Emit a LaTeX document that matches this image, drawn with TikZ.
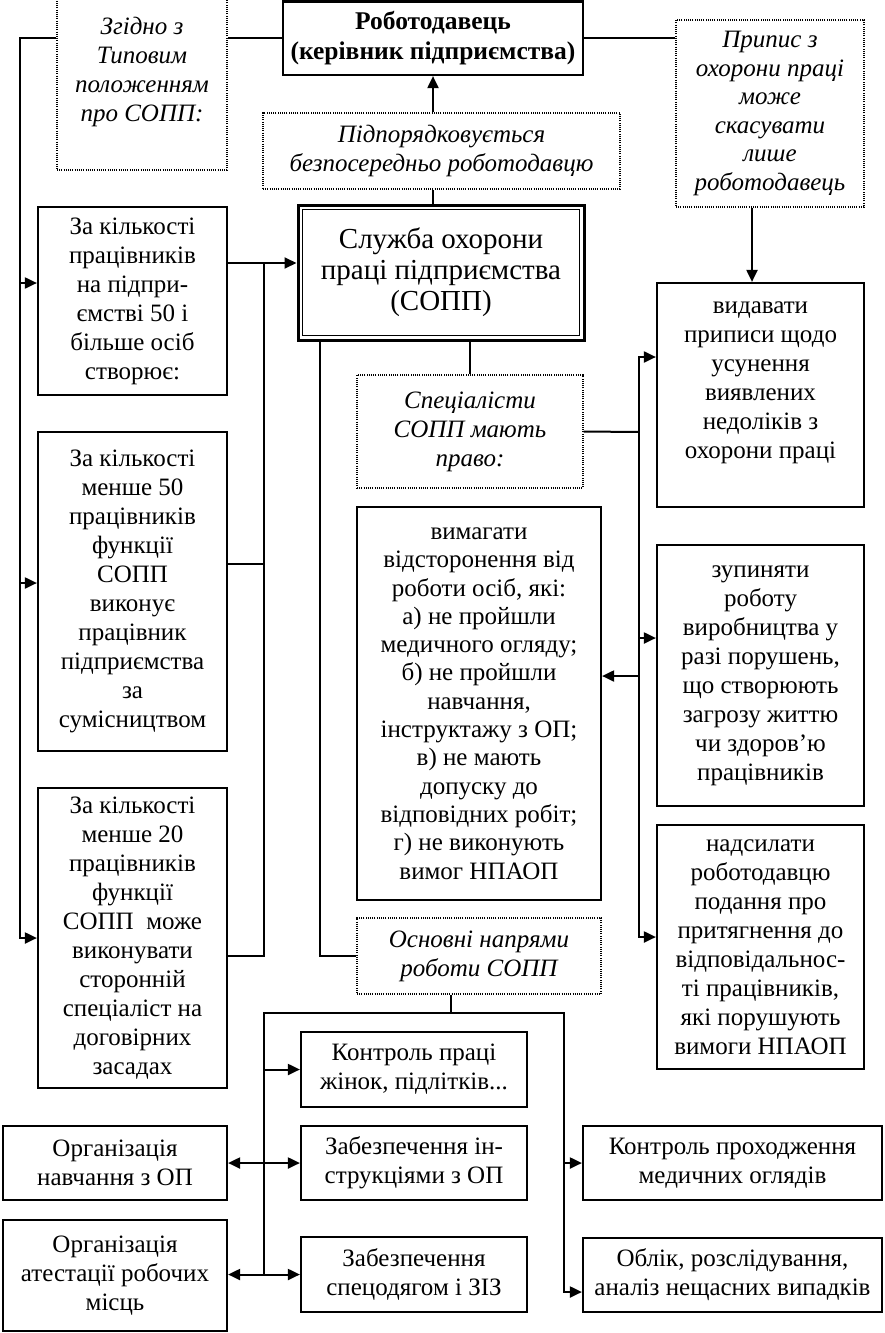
\documentclass[tikz,border=0pt]{standalone}
\usepackage{fontspec}
\setmainfont{Liberation Serif}
\usetikzlibrary{arrows.meta}

\begin{document}
\begin{tikzpicture}[x=1pt, y=-1pt]

    \tikzstyle{block} = [rectangle, draw, line width=2.2pt, align=center, inner sep=0pt, font=\fontsize{25}{29}\selectfont]
    \tikzstyle{note} = [rectangle, draw, dash pattern=on 1pt off 1.2pt, line width=1.1pt, align=center, inner sep=0pt, font=\fontsize{25}{29}\selectfont\itshape]
    \tikzstyle{mainblock} = [block, line width=3pt, font=\fontsize{29}{31}\selectfont,
        path picture={\draw [line width=1.2pt] ([shift={(4.5pt,4.5pt)}]path picture bounding box.south west) rectangle ([shift={(-4.5pt,-4.5pt)}]path picture bounding box.north east);}]
    \tikzstyle{link} = [line width=2pt]
    \tikzstyle{arrow} = [line width=2pt,->,>={Triangle[length=12pt,width=11pt]}]

    \useasboundingbox (0,0) rectangle (884,1333);

    % top row
    \node (rob) [block, minimum width=300pt, minimum height=73.5pt, font=\fontsize{25.5}{30}\selectfont\bfseries] at (433,38.25) {Роботодавець\\(керівник підприємства)};
    \node (zgidno) [note, minimum width=170pt, minimum height=172pt] at (142,84) {Згідно з\\Типовим\\положенням\\про СОПП:\\~};
    \node (pidp) [note, minimum width=357pt, minimum height=76pt] at (441.5,151) {Підпорядковується\\безпосередньо роботодавцю};
    \node (pripys) [note, minimum width=188pt, minimum height=187pt, font=\fontsize{25}{28.5}\selectfont\itshape] at (770,113.5) {Припис з\\охорони праці\\може\\скасувати\\лише\\роботодавець};

    \node (sopp) [mainblock, minimum width=286pt, minimum height=135pt] at (441,272.5) {Служба охорони\\праці підприємства\\(СОПП)};

    % left column
    \node (boxA) [block, minimum width=189pt, minimum height=188pt] at (132.5,301) {За кількості\\працівників\\на підпри-\\ємстві 50 і\\більше осіб\\створює:};
    \node (boxB) [block, minimum width=189pt, minimum height=319pt] at (132.5,591.5) {За кількості\\менше 50\\працівників\\функції\\СОПП\\виконує\\працівник\\підприємства\\за\\сумісництвом};
    \node (boxC) [block, minimum width=189pt, minimum height=300pt] at (132.5,938) {За кількості\\менше 20\\працівників\\функції\\СОПП\ \ може\\виконувати\\сторонній\\спеціаліст на\\договірних\\засадах};

    % rights of the specialists
    \node (spec) [note, minimum width=226pt, minimum height=113pt] at (470,431.5) {Спеціалісти\\СОПП мають\\право:};
    \node (vyd) [block, minimum width=207pt, minimum height=224pt] at (760.5,395) {видавати\\приписи щодо\\усунення\\виявлених\\недоліків з\\охорони праці\\~};
    \node (vym) [block, minimum width=244pt, minimum height=393pt, font=\fontsize{25}{28.3}\selectfont] at (479,703.5) {вимагати\\відсторонення від\\роботи осіб, які:\\а) не пройшли\\медичного огляду;\\б) не пройшли\\навчання,\\інструктажу з ОП;\\в) не мають\\допуску до\\відповідних робіт;\\г) не виконують\\вимог НПАОП};
    \node (zup) [block, minimum width=207pt, minimum height=261pt] at (760.5,675.5) {зупиняти\\роботу\\виробництва у\\разі порушень,\\що створюють\\загрозу життю\\чи здоров’ю\\працівників};
    \node (nads) [block, minimum width=207pt, minimum height=244pt] at (760.5,947) {надсилати\\роботодавцю\\подання про\\притягнення до\\відповідальнос-\\ті працівників,\\які порушують\\вимоги НПАОП};

    % main directions
    \node (osn) [note, minimum width=244pt, minimum height=76pt] at (479,956) {Основні напрями\\роботи СОПП};
    \node (kzh) [block, minimum width=226pt, minimum height=75pt] at (414,1069.5) {Контроль праці\\жінок, підлітків...};
    \node (zabinstr) [block, minimum width=226pt, minimum height=74pt] at (414,1163) {Забезпечення ін-\\струкціями з ОП};
    \node (zabspec) [block, minimum width=226pt, minimum height=75pt] at (414,1274.5) {Забезпечення\\спецодягом і ЗІЗ};
    \node (orgnav) [block, minimum width=224pt, minimum height=74pt] at (115,1163) {Організація\\навчання з ОП};
    \node (orgatt) [block, minimum width=224pt, minimum height=111pt] at (115,1275.5) {Організація\\атестації робочих\\місць};
    \node (kpro) [block, minimum width=299pt, minimum height=74pt] at (732.5,1163) {Контроль проходження\\медичних оглядів};
    \node (oblik) [block, minimum width=299pt, minimum height=74pt] at (732.5,1275) {Облік, розслідування,\\аналіз нещасних випадків};

    % connectors, top
    \draw [link] (zgidno.east |- rob.west) -- (rob.west);
    \draw [link] (rob.east) -- (rob.east -| pripys.west);
    \draw [link] (sopp.north -| rob.south) -- (pidp.south -| rob.south);
    \draw [arrow] (pidp.north -| rob.south) -- (rob.south);
    \coordinate (pr) at (752,0);
    \draw [arrow] (pripys.south -| pr) -- (vyd.north -| pr);

    % left trunk
    \coordinate (lt) at (20,38);
    \draw [arrow] (zgidno.west |- lt) -- (lt) |- (boxC.west);
    \draw [arrow] (lt |- 0,283) -- (boxA.west |- 0,283);
    \draw [arrow] (lt |- 0,583) -- (boxB.west |- 0,583);

    \coordinate (ct) at (264,263);
    \draw [arrow] (boxA.east |- ct) -- (sopp.west |- ct);
    \draw [link] (ct) |- (boxC.east |- 0,956);
    \draw [link] (boxB.east |- 0,564) -- (ct |- 0,564);

    % from the service
    \draw [link] (sopp.south -| spec.north) -- (spec.north);
    \draw [link] (sopp.south -| 320,0) |- (osn.west);

    % right trunk
    \coordinate (rt) at (639,432);
    \draw [link] (spec.east) -- (rt);
    \draw [arrow] (rt) |- (vyd.west |- 0,357);
    \draw [arrow] (rt) |- (nads.west |- 0,937);
    \draw [arrow] (rt |- 0,638) -- (zup.west |- 0,638);
    \draw [arrow] (rt |- 0,676) -- (vym.east |- 0,676);

    % bottom
    \coordinate (bt) at (451,1013);
    \coordinate (lb) at (264,0);
    \coordinate (rb) at (564,0);
    \draw [link] (osn.south -| bt) -- (bt);
    \draw [arrow] (bt) -| (lb |- zabspec.west) -- (zabspec.west);
    \draw [arrow] (lb |- zabspec.west) -- (orgatt.east |- zabspec.west);
    \draw [arrow] (lb |- kzh.west) -- (kzh.west);
    \draw [arrow] (lb |- zabinstr.west) -- (zabinstr.west);
    \draw [arrow] (lb |- zabinstr.west) -- (orgnav.east);
    \draw [arrow] (bt) -| (rb |- 0,1292) -- (oblik.west |- 0,1292);
    \draw [arrow] (rb |- kpro.west) -- (kpro.west);

\end{tikzpicture}
\end{document}
